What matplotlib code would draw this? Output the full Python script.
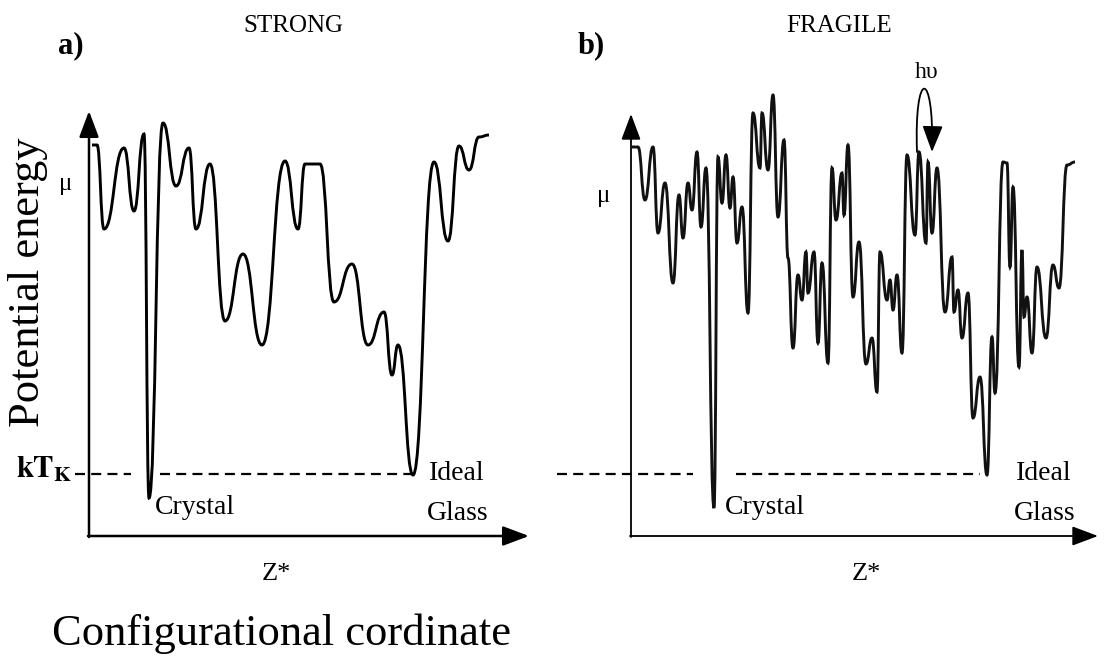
import matplotlib
matplotlib.use("Agg")
import matplotlib.pyplot as plt
from matplotlib.path import Path
from matplotlib.patches import PathPatch, FancyArrowPatch

plt.rcParams['font.family'] = ['Liberation Serif', 'DejaVu Serif']
plt.rcParams['mathtext.fontset'] = 'stix'

# ---------- landscape data (extrema, in picture units: x to the right, energy downward) ----------
strong_x = [92, 97, 104, 124, 134, 144, 149, 163, 176, 189, 196, 210, 225, 243, 262, 285,
            298, 305, 320, 334, 352, 368, 384, 392, 398, 413, 434, 448, 459, 469, 479, 489]
strong_y = [145, 145, 229, 148, 211, 134, 498, 123, 186, 148, 229, 164, 321, 254, 345, 161,
            229, 164, 164, 302, 264, 345, 312, 375, 345, 475, 162, 241, 146, 170, 137, 135]

fragile_x = [632, 638, 645, 653, 658, 665, 673, 679, 683, 688, 692, 697, 701, 706, 714, 718,
             722, 726, 730, 733, 737, 742, 748, 753, 760, 762, 768, 773, 778, 784, 788,
             793, 798, 802, 806, 808, 814, 818, 822, 828, 832, 836, 842, 844, 848, 853, 859,
             866, 872, 877, 880, 887, 890, 893, 897, 902, 907, 915, 919, 926, 928, 932, 937,
             945, 952, 954, 958, 962, 968, 973, 980, 987, 992, 995, 1003, 1007, 1010, 1013,
             1019, 1022, 1024, 1027, 1032, 1037, 1046, 1053, 1059, 1067, 1075]
fragile_y = [147, 147, 200, 147, 233, 183, 283, 195, 238, 183, 210, 152, 227, 168, 508, 157,
             203, 155, 208, 177, 243, 207, 313, 113, 168, 113, 170, 95, 217, 140, 258,
             348, 275, 300, 252, 293, 252, 343, 263, 363, 168, 220, 173, 215, 145, 297, 242,
             364, 338, 392, 252, 300, 280, 310, 275, 353, 155, 235, 152, 243, 162, 233, 168,
             312, 257, 312, 290, 338, 293, 418, 377, 475, 337, 393, 162, 163, 267, 187,
             367, 250, 317, 297, 353, 267, 338, 265, 288, 165, 162]

kT_level = 474
panel_titles = ["STRONG", "FRAGILE"]
panel_tags = ["a)", "b)"]


def landscape_path(xs, ys):
    # smooth curve through the extrema: horizontal tangent at every turning point
    verts = [(xs[0], ys[0])]
    codes = [Path.MOVETO]
    for i in range(1, len(xs)):
        x0, y0, x1, y1 = xs[i - 1], ys[i - 1], xs[i], ys[i]
        mid = (x0 + x1) / 2
        verts += [(mid, y0), (mid, y1), (x1, y1)]
        codes += [Path.CURVE4] * 3
    return Path(verts, codes)


fig = plt.figure(figsize=(11.04, 6.63), dpi=100)
ax = fig.add_axes([0, 0, 1, 1])
ax.set_xlim(0, 1104)
ax.set_ylim(663, 0)
ax.axis("off")

ax.add_patch(PathPatch(landscape_path(strong_x, strong_y), fill=False, lw=2.1, ec="black"))
ax.add_patch(PathPatch(landscape_path(fragile_x, fragile_y), fill=False, lw=2.1, ec="#111111"))

# axes with arrow heads
axis_style = dict(arrowstyle="-|>,head_length=0.8,head_width=0.3", color="black",
                  mutation_scale=20, shrinkA=0, shrinkB=0)
for (x0, xtip, ytip, lw) in [(89, 529, 111, 1.8), (631, 1098, 114, 1.3)]:
    ax.annotate("", xy=(x0, ytip), xytext=(x0, 537), arrowprops=dict(lw=lw, **axis_style))
    ax.annotate("", xy=(xtip, 536), xytext=(x0 - 1, 536), arrowprops=dict(lw=lw, **axis_style))

# kT_K dashed levels
dash = dict(color="black", lw=1.6, dashes=(4.5, 2.8))
ax.plot([75, 131], [kT_level, kT_level], **dash)
ax.plot([160, 411], [kT_level, kT_level], **dash)
ax.plot([557, 693], [kT_level, kT_level], **dash)
ax.plot([736, 980], [kT_level, kT_level], **dash)

# h-upsilon hop arrow
hop = Path([(917, 152), (914, 68), (934, 68), (932, 152)],
           [Path.MOVETO, Path.CURVE4, Path.CURVE4, Path.CURVE4])
ax.add_patch(FancyArrowPatch(path=hop, arrowstyle="-|>,head_length=0.9,head_width=0.35",
                             mutation_scale=18, color="black", lw=1.3))
ax.text(927, 72, "hυ", fontsize=17, ha="center", va="center")

# panel labels
ax.text(71, 46, panel_tags[0], fontsize=22, fontweight="bold", ha="center", va="center")
ax.text(591, 46, panel_tags[1], fontsize=22, fontweight="bold", ha="center", va="center")
ax.text(293, 26, panel_titles[0], fontsize=18, ha="center", va="center")
ax.text(839, 26, panel_titles[1], fontsize=18, ha="center", va="center")

ax.text(66, 184, "μ", fontsize=18, ha="center", va="center")
ax.text(604, 196, "μ", fontsize=18, ha="center", va="center")
ax.text(16, 470, r"$\mathbf{kT_K}$", fontsize=22, ha="left", va="center")

for (cx, ix) in [(155, 429), (725, 1016)]:
    ax.text(cx, 508, "Crystal", fontsize=20, ha="left", va="center")
    ax.text(ix, 473, "Ideal", fontsize=20, ha="left", va="center")
    ax.text(ix - 2, 514, "Glass", fontsize=20, ha="left", va="center")

ax.text(276, 574, "Z*", fontsize=19, ha="center", va="center")
ax.text(866, 574, "Z*", fontsize=19, ha="center", va="center")

ax.text(28, 282, "Potential energy", fontsize=32, rotation=90, ha="center", va="center")
ax.text(281, 634, "Configurational cordinate", fontsize=32, ha="center", va="center")

fig.savefig("out.png", dpi=100)
